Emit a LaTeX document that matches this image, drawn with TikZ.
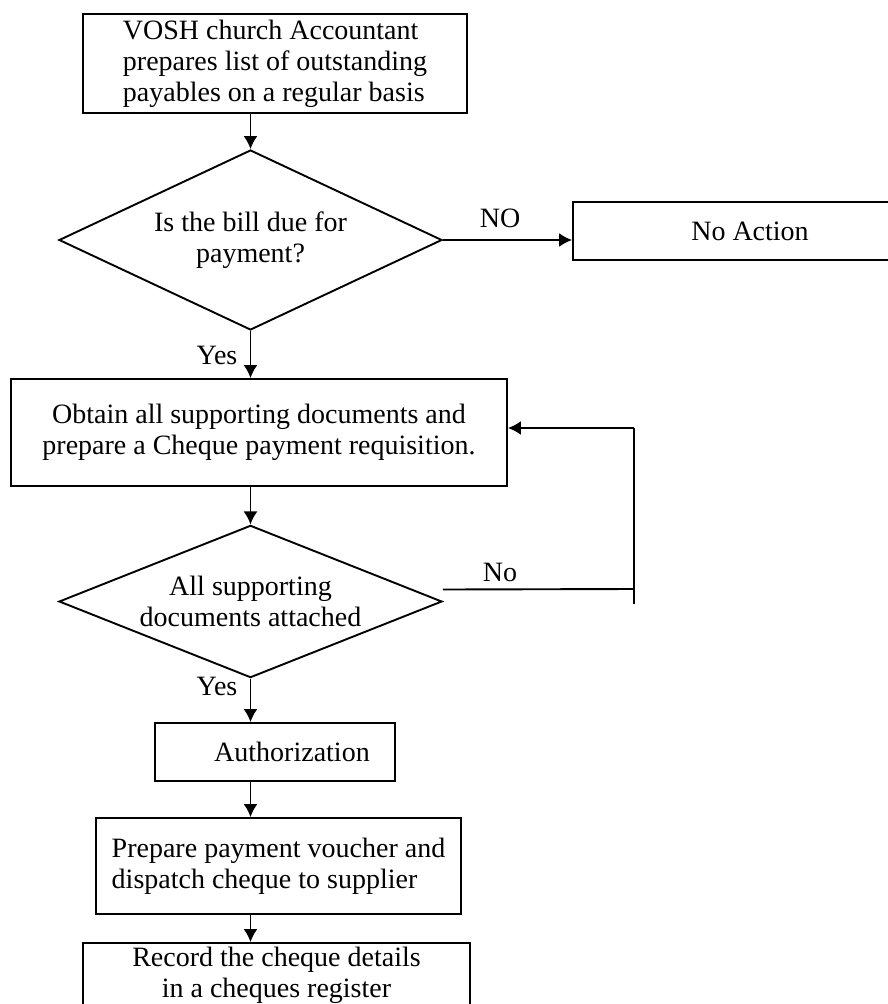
\documentclass[tikz,border=0pt]{standalone}
\usepackage{fontspec}
\setmainfont{Liberation Serif}
\usepackage{tikz}
\usetikzlibrary{shapes.geometric, arrows.meta, positioning}

\begin{document}
\begin{tikzpicture}[x=1pt, y=-1pt, line width=1.9pt,
  every node/.style={font=\fontsize{28}{31}\selectfont}]
\tikzstyle{process} = [rectangle, draw=black, align=center, inner sep=0pt]
\tikzstyle{decision} = [diamond, draw=black, align=center, inner sep=-30pt]
\tikzstyle{arrow} = [->, >={Latex[length=13pt, width=14pt]}]

\useasboundingbox (0,0) rectangle (888,1004);
\clip (0,0) rectangle (888,1004);

% Boxes
\node[process, align=left, minimum width=384, minimum height=99] (start) at (275,63.5)
  {VOSH church Accountant\\prepares list of outstanding\\payables on a regular basis};
\node[decision, minimum width=383, minimum height=180] (due) at (250.5,240)
  {Is the bill due for\\payment?};
\node[process, minimum width=354, minimum height=58] (noact) at (750,231) {No Action};
\node[process, minimum width=496, minimum height=107] (obtain) at (259,432.5)
  {Obtain all supporting documents and\\prepare a Cheque payment requisition.};
\node[decision, minimum width=383, minimum height=131] (attach) at (250.5,601.5)
  {All supporting\\documents attached};
\node[process, minimum width=240, minimum height=58] (auth) at (275,752)
  {\hspace{34pt}Authorization};
\node[process, align=left, minimum width=365, minimum height=96] (voucher) at (278.5,866)
  {Prepare payment voucher and\\dispatch cheque to supplier};
\node[process, minimum width=387, minimum height=64] (record) at (276.5,975)
  {Record the cheque details\\in a cheques register};

% Loop corners
\coordinate (nocorner) at (634,589);
\coordinate (loopbot) at (634,604);
\coordinate (looptop) at (634,428);

% Arrows
\draw[arrow] (due.north |- start.south) -- (due.north);
\draw[arrow] (due.east) -- (noact.west |- due.east);
\draw[arrow] (due.south) -- (due.south |- obtain.north);
\draw[arrow] (attach.north |- obtain.south) -- (attach.north);
\draw[arrow] (attach.south) -- (attach.south |- auth.north);
\draw[arrow] (attach.south |- auth.south) -- (attach.south |- voucher.north);
\draw[arrow] (attach.south |- voucher.south) -- (attach.south |- record.north);
\draw ([yshift=12pt]attach.east) -- (nocorner);
\draw (loopbot) -- (looptop);
\draw[arrow] (looptop) -- (obtain.east |- looptop);

% Labels
\node (lblno) at (500,218) {NO};
\node (lblyes) at (217,355) {Yes};
\node (lblno2) at (500,572) {No};
\node (lblyes2) at (217,686) {Yes};
\end{tikzpicture}
\end{document}
